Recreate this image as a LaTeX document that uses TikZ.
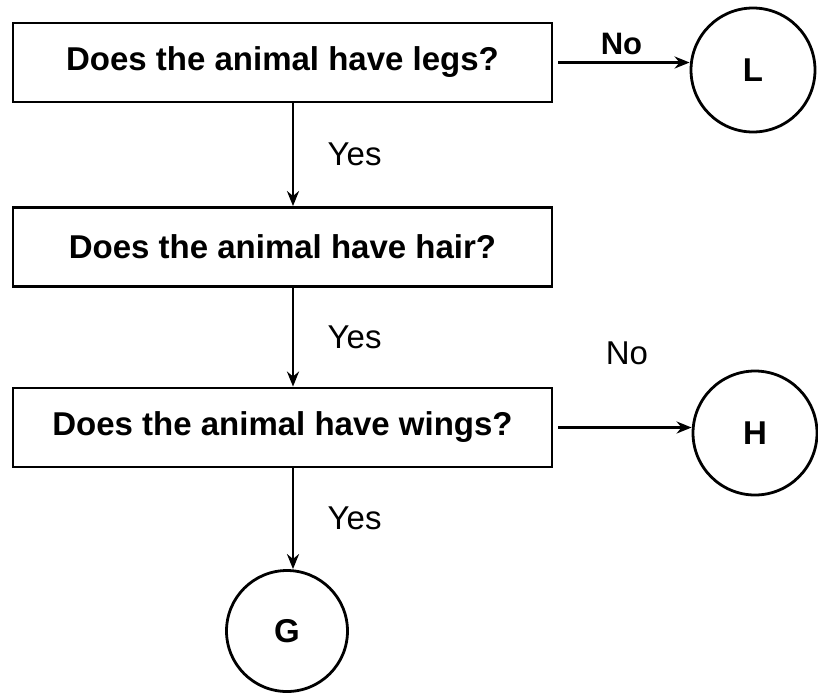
\documentclass[tikz,border=0pt]{standalone}
\usepackage{fontspec}
\setmainfont{Liberation Sans}
\usetikzlibrary{arrows.meta}
\begin{document}
\begin{tikzpicture}[x=1pt,y=-1pt,line width=2.8pt,>={Stealth[length=15pt,width=12pt]},
  qbox/.style={draw,minimum width=539pt,minimum height=79pt,inner sep=0pt,font=\fontsize{33}{38}\selectfont\bfseries},
  leaf/.style={draw,circle,minimum size=124pt,inner sep=0pt,font=\fontsize{33}{38}\selectfont\bfseries},
  lbl/.style={font=\fontsize{33}{38}\selectfont}]
\useasboundingbox (0,0) rectangle (818,694);
% questions
\node[qbox] (legs) at (282.5,62.5) {Does the animal have legs?};
\node[qbox] (hair) at (282.5,247) {Does the animal have hair?};
\node[qbox] (wings) at (282.5,427.5) {Does the animal have wings?};
% end points
\node[leaf] (L) at (753,70) {L};
\node[leaf] (H) at (755,433) {H};
\node[leaf,minimum size=121pt] (G) at (287,631) {G};
% no branches
\draw[->, shorten <=5pt] (legs.east) -- (legs.east -| L.west) node[midway,above=3pt,lbl,font=\fontsize{31}{36}\selectfont\bfseries] (no1) {No};
\draw[->, shorten <=5pt] (wings.east) -- (wings.east -| H.west);
\node[lbl] (no2) at (627,353) {No};
% yes branches
\draw[->] ([xshift=10.5pt]legs.south) -- ([xshift=10.5pt]hair.north) node[midway,right=30pt,lbl] (yes1) {Yes};
\draw[->] ([xshift=10.5pt]hair.south) -- ([xshift=10.5pt]wings.north) node[midway,right=30pt,lbl] (yes2) {Yes};
\draw[->] ([xshift=10.5pt]wings.south) -- ([xshift=10.5pt]wings.south |- G.north) node[midway,right=30pt,lbl] (yes3) {Yes};
\end{tikzpicture}
\end{document}
